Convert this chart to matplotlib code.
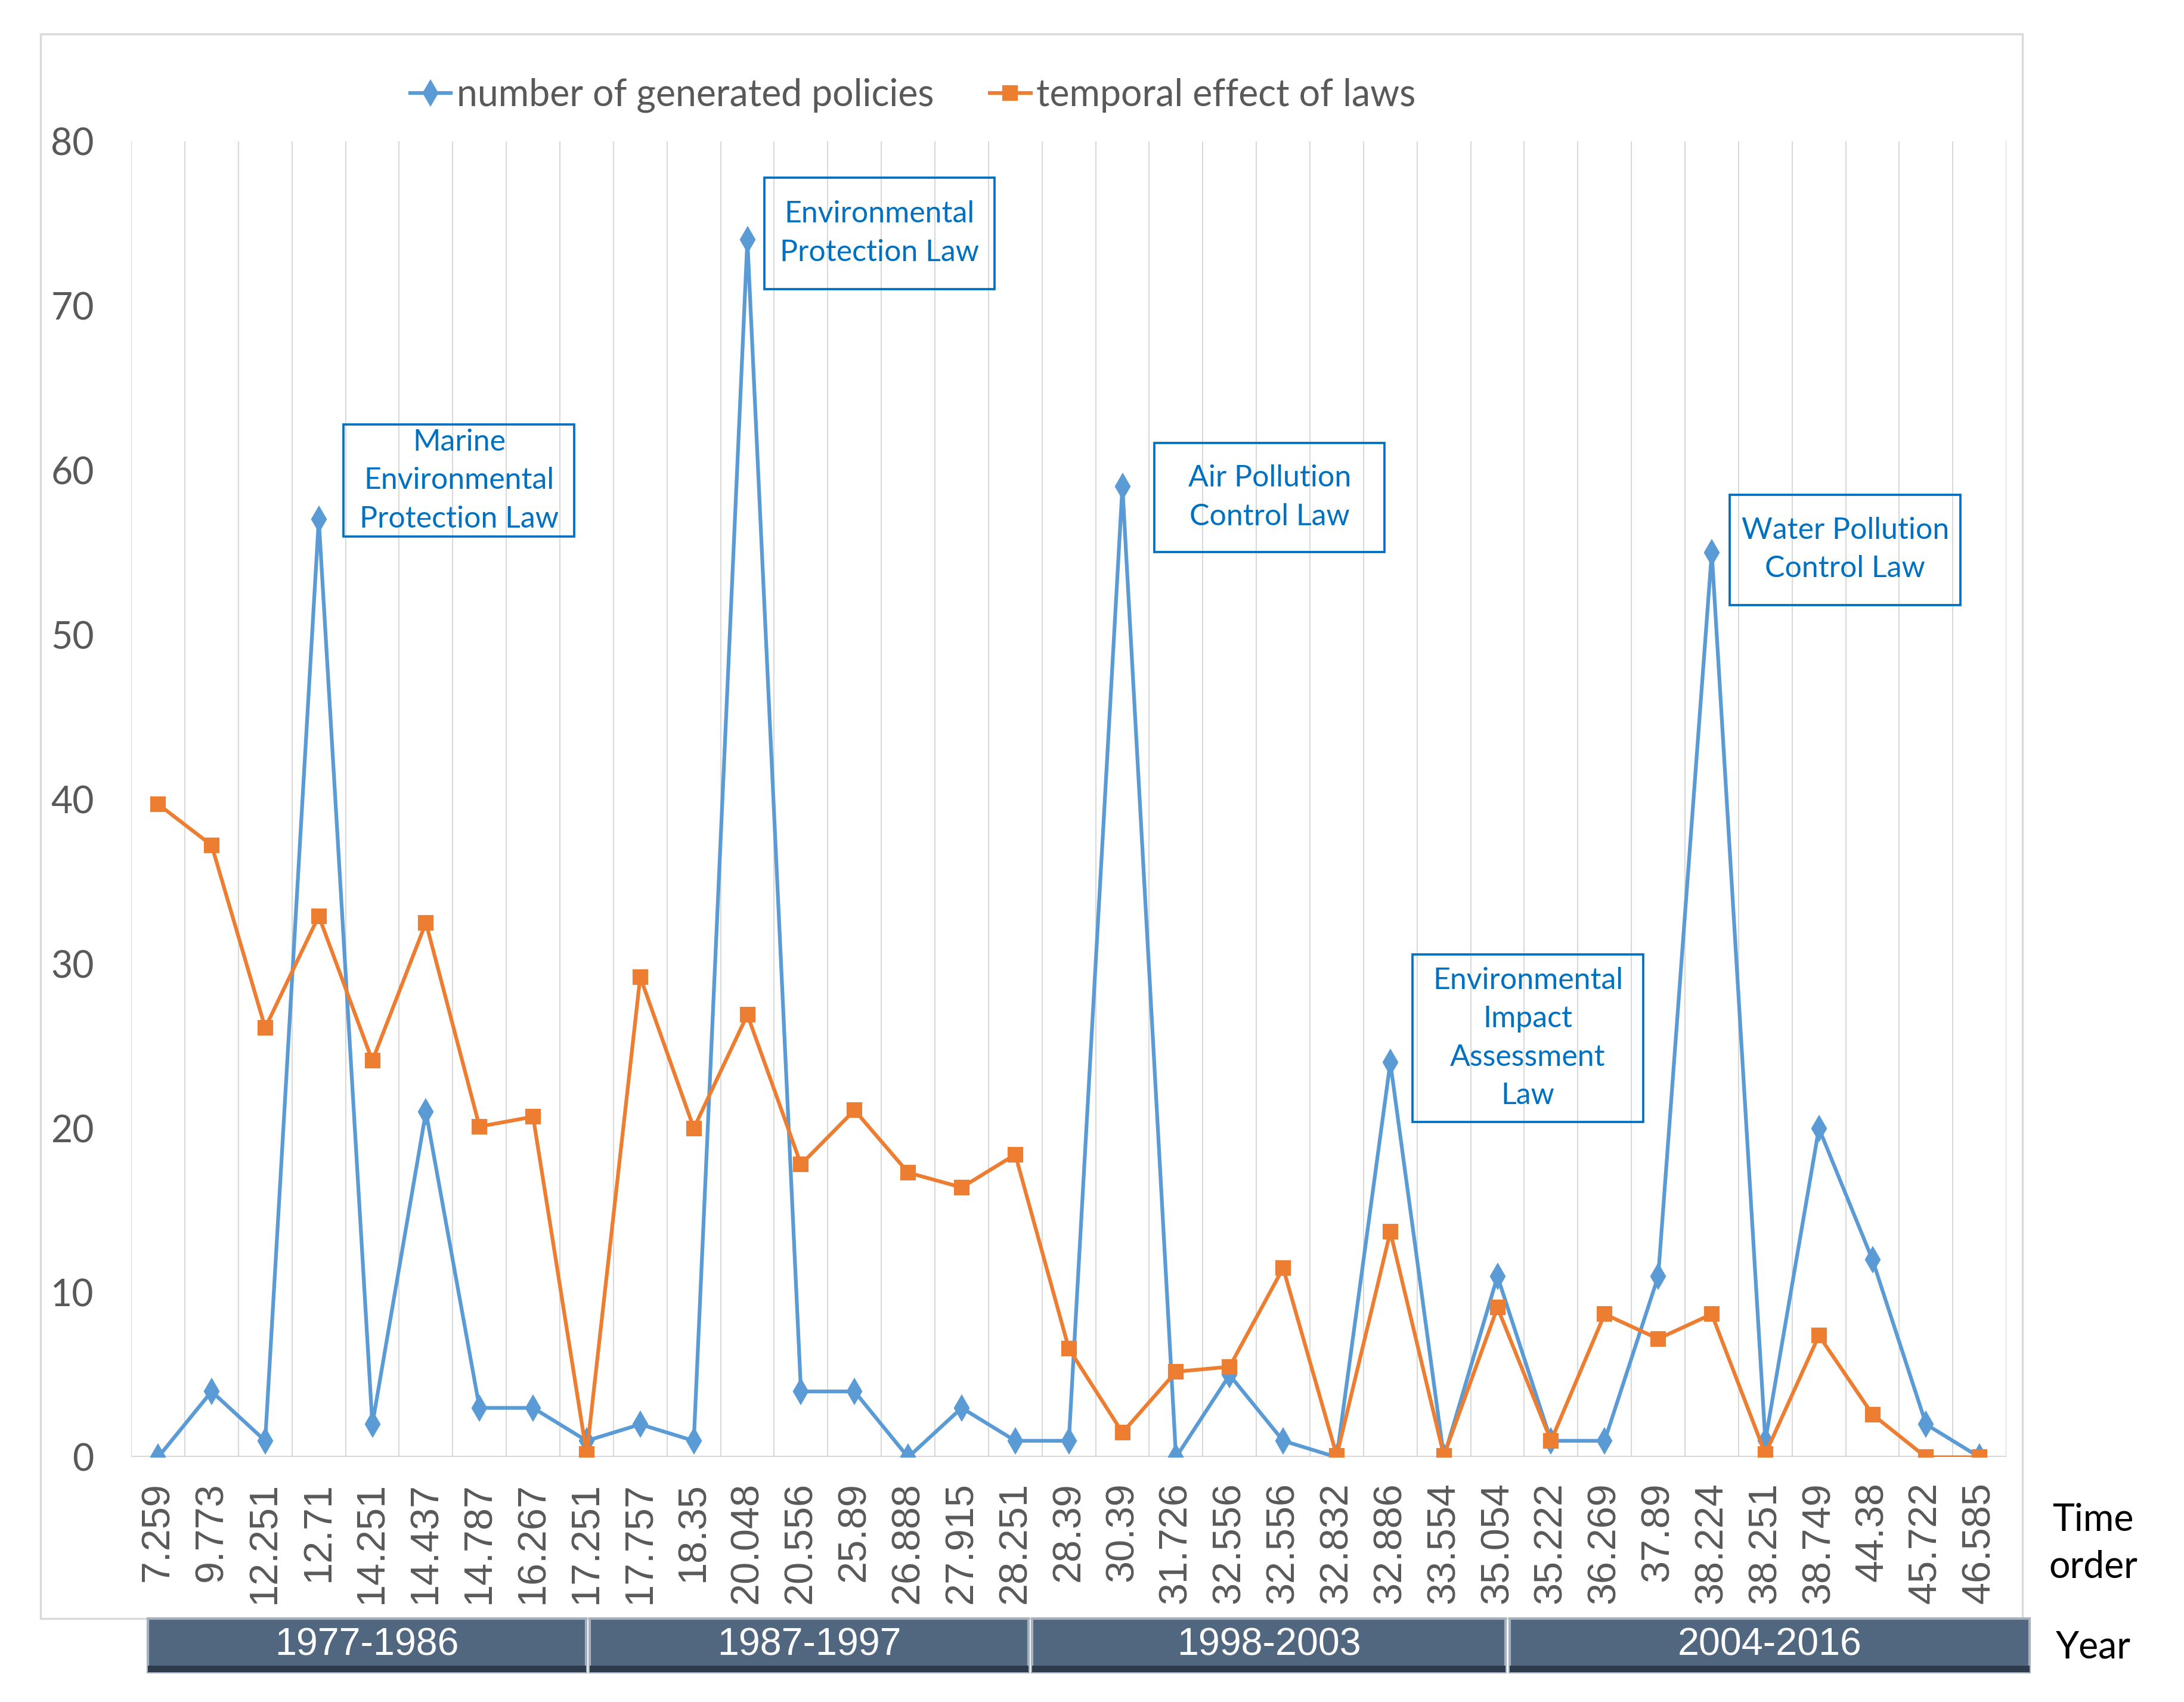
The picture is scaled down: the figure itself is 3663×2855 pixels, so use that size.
import matplotlib
matplotlib.use('Agg')
import matplotlib.pyplot as plt
from matplotlib.lines import Line2D
from matplotlib.patches import Rectangle
import numpy as np

# time order labels on the category axis
time_order = ['7.259', '9.773', '12.251', '12.71', '14.251', '14.437', '14.787',
              '16.267', '17.251', '17.757', '18.35', '20.048', '20.556', '25.89',
              '26.888', '27.915', '28.251', '28.39', '30.39', '31.726', '32.556',
              '32.556', '32.832', '32.886', '33.554', '35.054', '35.222', '36.269',
              '37.89', '38.224', '38.251', '38.749', '44.38', '45.722', '46.585']

policies = [0, 4, 1, 57, 2, 21, 3, 3, 1, 2, 1, 74, 4, 4, 0, 3, 1, 1, 59, 0,
            5, 1, 0, 24, 0, 11, 1, 1, 11, 55, 1, 20, 12, 2, 0]

temporal_effect = [39.7, 37.2, 26.1, 32.9, 24.1, 32.5, 20.1, 20.7, 0.2, 29.2,
                   20.0, 26.9, 17.8, 21.1, 17.3, 16.4, 18.4, 6.6, 1.5, 5.2,
                   5.5, 11.5, 0.1, 13.7, 0.1, 9.1, 1.0, 8.7, 7.2, 8.7,
                   0.2, 7.4, 2.6, 0.0, 0.0]

year_ranges = ['1977-1986', '1987-1997', '1998-2003', '2004-2016']

law_notes = ['Marine\nEnvironmental\nProtection Law',
             'Environmental\nProtection Law',
             'Air Pollution\nControl Law',
             'Environmental\nImpact\nAssessment\nLaw',
             'Water Pollution\nControl Law']

BLUE = '#5B9BD5'
ORANGE = '#ED7D31'
GRAY = '#595959'
NOTE = '#0070C0'
CAL = ['Lato', 'DejaVu Sans']

fig = plt.figure(figsize=(12.21, 9.5167), dpi=300)

# outer chart frame
fig.patches.append(Rectangle((0.0186, 0.049), 0.9074, 0.931, transform=fig.transFigure,
                             fill=False, edgecolor='#D9D9D9', lw=0.8))

ax = fig.add_axes([0.0601, 0.1438, 0.8586, 0.7733])
x = np.arange(len(time_order))

ax.plot(x, policies, color=BLUE, lw=1.5, marker='d', ms=6.5, mec=BLUE, zorder=3,
        label='number of generated policies')
ax.plot(x, temporal_effect, color=ORANGE, lw=1.5, marker='s', ms=5.5, mec=ORANGE, zorder=4,
        label='temporal effect of laws')

ax.set_xlim(-0.5, len(time_order) - 0.5)
ax.set_ylim(0, 80)
ax.set_yticks(np.arange(0, 81, 10))
ax.set_xticks(x)
ax.set_xticklabels(time_order, rotation=90, family=['Liberation Sans', 'DejaVu Sans'],
                   fontsize=16, color=GRAY)
for lab in ax.get_yticklabels():
    lab.set_family(CAL)
    lab.set_fontsize(15)
    lab.set_color(GRAY)
ax.tick_params(axis='both', length=0)
ax.tick_params(axis='x', pad=10)
ax.tick_params(axis='y', pad=15)
ax.set_xticks(np.arange(-0.5, len(time_order), 1), minor=True)
ax.tick_params(which='minor', length=0)
ax.grid(which='minor', axis='x', color='#D9D9D9', lw=0.5)
ax.axhline(0, color='#D9D9D9', lw=1.0, zorder=2)
for s in ax.spines.values():
    s.set_visible(False)

# law annotation boxes (axes fraction)
boxes = [(0.1133, 0.6996), (0.3376, 0.8875), (0.5455, 0.6879), (0.6833, 0.2548), (0.8525, 0.6476)]
heights = [0.0849, 0.0849, 0.0828, 0.1274, 0.0838]
for (bx, by), bh, txt in zip(boxes, heights, law_notes):
    ax.add_patch(Rectangle((bx, by), 0.1229, bh, transform=ax.transAxes, fill=False,
                           edgecolor=NOTE, lw=0.9, zorder=5))
    ax.text(bx + 0.0615, by + bh / 2, txt, transform=ax.transAxes, ha='center', va='center',
            color=NOTE, fontsize=12, family=CAL, linespacing=1.5, zorder=6)

handles = [Line2D([], [], color=BLUE, lw=1.5, marker='d', ms=6.5),
           Line2D([], [], color=ORANGE, lw=1.5, marker='s', ms=5.5)]
leg = fig.legend(handles, ['number of generated policies', 'temporal effect of laws'],
                 loc='center', bbox_to_anchor=(0.418, 0.944), ncol=2, frameon=False,
                 handlelength=1.1, handletextpad=0.15, columnspacing=1.5,
                 prop={'family': CAL, 'size': 15})
for t in leg.get_texts():
    t.set_color(GRAY)

# year period bars below the axis
bar_left = [0.0677, 0.2700, 0.4726, 0.6912]
bar_right = [0.2684, 0.4709, 0.6893, 0.9293]
for l, r, yr in zip(bar_left, bar_right, year_ranges):
    fig.patches.append(Rectangle((l, 0.0175), r - l, 0.0315, transform=fig.transFigure,
                                 facecolor='#51677F', edgecolor='#A7B1BE', lw=1.0))
    fig.patches.append(Rectangle((l, 0.0175), r - l, 0.004, transform=fig.transFigure,
                                 facecolor='#2E3B4C', edgecolor='none'))
    fig.text((l + r) / 2, 0.0335, yr, ha='center', va='center', color='white',
             fontsize=15.5, family=['Liberation Sans', 'DejaVu Sans'])

fig.text(0.9584, 0.093, 'Time\norder', ha='center', va='center', fontsize=15,
         family=CAL, color='black', linespacing=1.45)
fig.text(0.9584, 0.032, 'Year', ha='center', va='center', fontsize=15,
         family=CAL, color='black')

fig.savefig('out.png', dpi=300)
